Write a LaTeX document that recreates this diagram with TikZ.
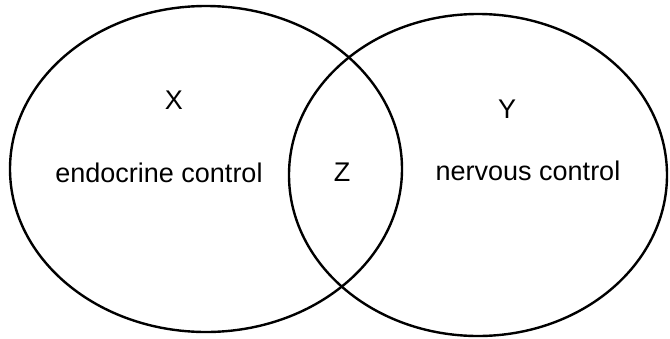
\documentclass[tikz,border=0pt]{standalone}
\usepackage{fontspec}
\setmainfont{Liberation Sans}
\tikzset{
  setring/.style={draw=black, line width=2.4pt},
  lbl/.style={anchor=base, inner sep=0pt, font=\fontsize{27}{31}\selectfont}
}
\begin{document}
\begin{tikzpicture}[x=1pt,y=-1pt]
\useasboundingbox (0,0) rectangle (670,338);
\draw[setring] (206,169) ellipse [x radius=196, y radius=163];
\draw[setring] (478,175) ellipse [x radius=189, y radius=161];
\node[lbl] (x) at (174,109) {X};
\node[lbl] (y) at (507,118) {Y};
\node[lbl] (z) at (342,181) {Z};
\node[lbl] (endo) at (159,182) {endocrine control};
\node[lbl] (nerv) at (528,180) {nervous control};
\end{tikzpicture}
\end{document}
